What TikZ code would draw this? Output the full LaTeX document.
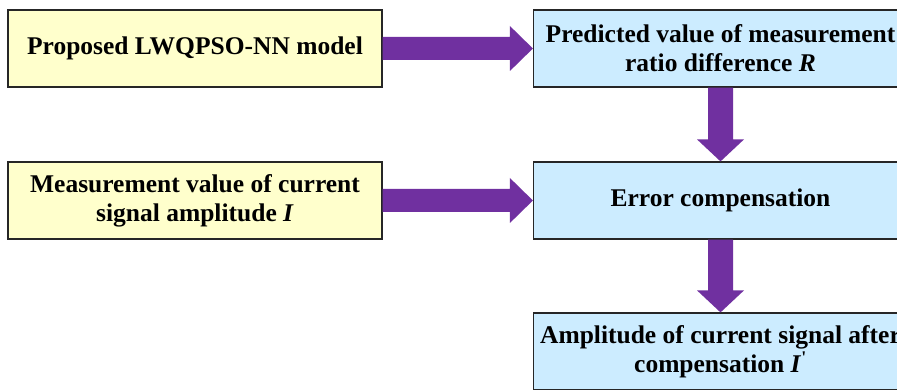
\documentclass[tikz,border=0pt]{standalone}
\usepackage{fontspec}
\setmainfont{Liberation Serif}
\usetikzlibrary{calc}
\definecolor{inbox}{HTML}{FFFFCC}
\definecolor{outbox}{HTML}{CCECFF}
\definecolor{flow}{HTML}{7030A0}
\definecolor{edge}{HTML}{262626}
\tikzset{
  box/.style={draw=edge, line width=1.2pt, minimum width=374pt, minimum height=77pt,
    inner sep=2pt, align=center, font=\fontsize{25.5}{29}\selectfont\bfseries},
  inbox/.style={box, fill=inbox},
  outbox/.style={box, fill=outbox},
  flowarrow/.style={fill=flow}
}
% fat horizontal arrow from the east side of #1 to the west side of #2
\newcommand\harrow[2]{%
  \fill[flowarrow] ($(#1.east)+(0,-11.5)$) -- ($(#2.west)+(-23,-11.5)$) -- ($(#2.west)+(-23,-22.5)$)
    -- (#2.west) -- ($(#2.west)+(-23,22.5)$) -- ($(#2.west)+(-23,11.5)$) -- ($(#1.east)+(0,11.5)$) -- cycle;}
% fat vertical arrow from the bottom of #1 to the top of #2
\newcommand\varrow[2]{%
  \fill[flowarrow] ($(#1.south)+(-12.5,0)$) -- ($(#2.north)+(-12.5,-22)$) -- ($(#2.north)+(-23.5,-22)$)
    -- (#2.north) -- ($(#2.north)+(23.5,-22)$) -- ($(#2.north)+(12.5,-22)$) -- ($(#1.south)+(12.5,0)$) -- cycle;}
\begin{document}
\begin{tikzpicture}[x=1pt, y=-1pt]
  \useasboundingbox (0,0) rectangle (897,390);
  \clip (0,0) rectangle (897,390);
  \fill[white] (0,0) rectangle (897,390);

  \node[inbox]  (model)   at (195,48.5)   {Proposed LWQPSO-NN model};
  \node[inbox]  (meas)    at (195,200.5)  {Measurement value of current\\signal amplitude \textit{I}};
  \node[outbox] (pred)    at (720.5,48.5) {Predicted value of measurement\\ratio difference \textit{R}};
  \node[outbox] (comp)    at (720.5,200.5){Error compensation};
  \node[outbox] (result)  at (720.5,351.5){Amplitude of current signal after\\compensation \textit{I}\textsuperscript{\textquotesingle}};

  \harrow{model}{pred}
  \harrow{meas}{comp}
  \varrow{pred}{comp}
  \varrow{comp}{result}
\end{tikzpicture}
\end{document}
